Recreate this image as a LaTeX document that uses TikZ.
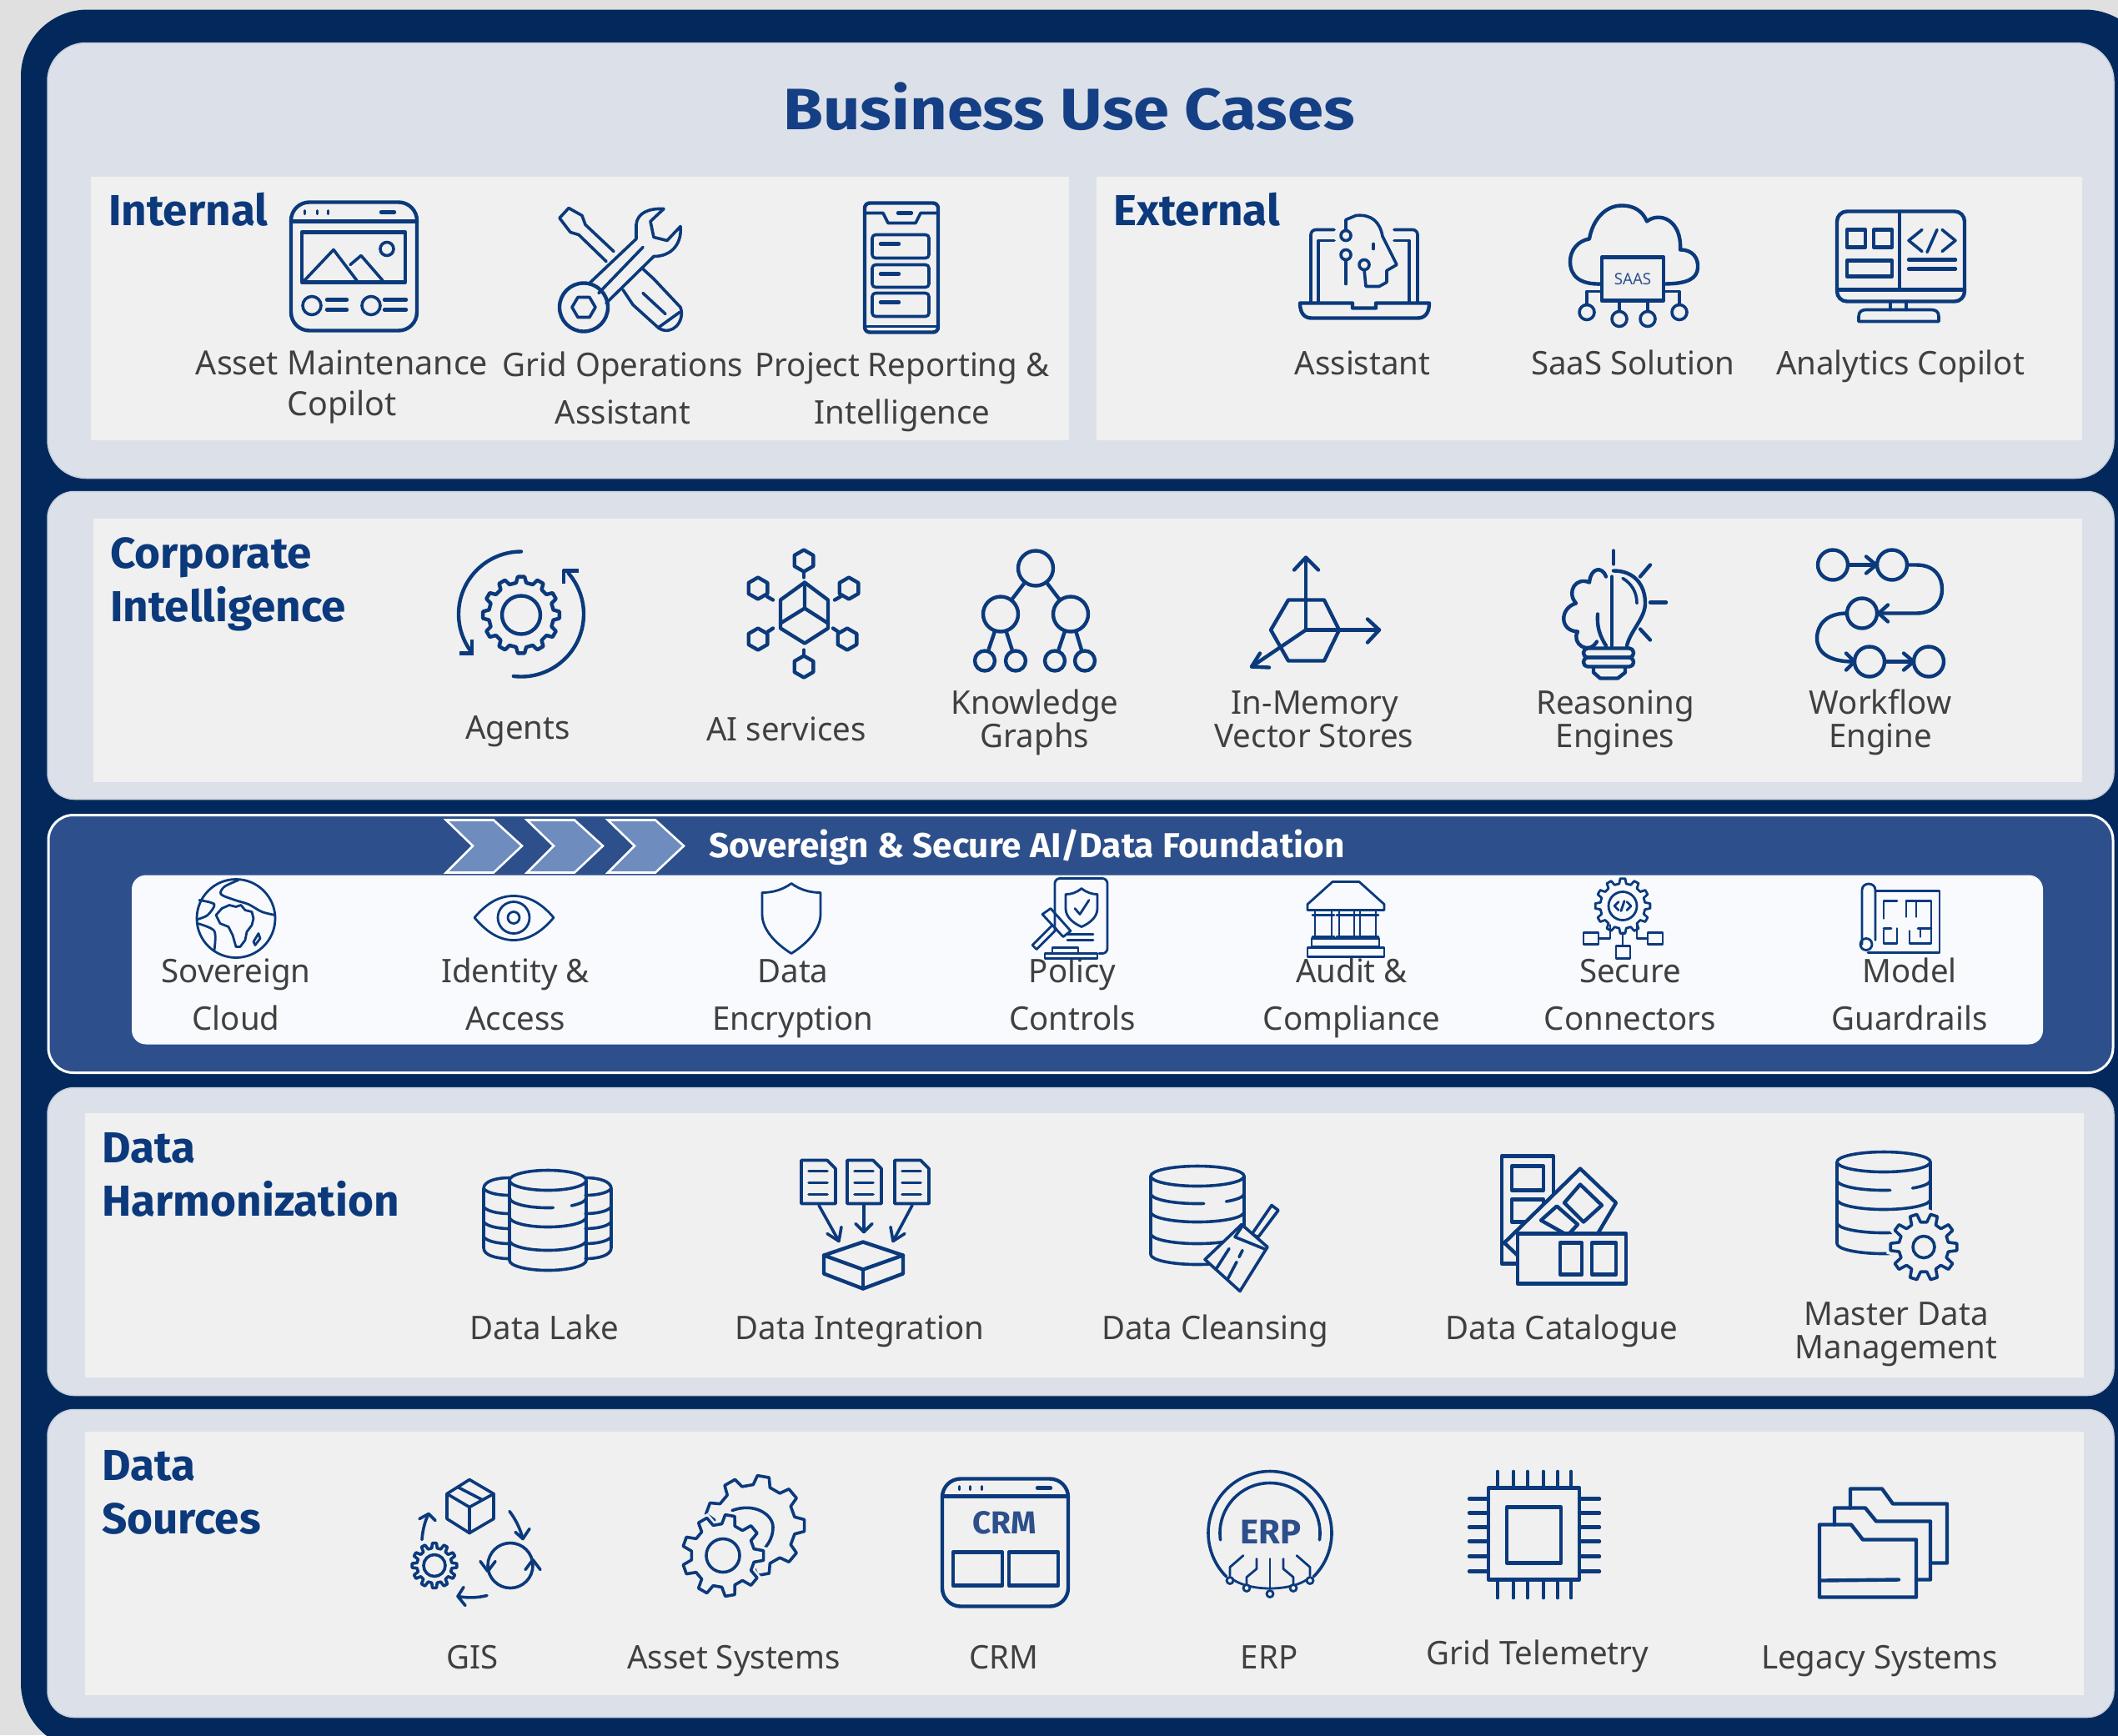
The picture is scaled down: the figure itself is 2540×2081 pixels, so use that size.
\documentclass[tikz,border=0pt]{standalone}
\usepackage{fontspec}
\setmainfont{Noto Sans}
\newfontfamily\labfont[FakeStretch=0.985]{Noto Sans}
\newfontfamily\hdfont[FakeStretch=1.02]{Fira Sans}
\newfontfamily\titlefont[FakeStretch=1.11]{Fira Sans}
\usetikzlibrary{arrows.meta}
\definecolor{pagegray}{HTML}{E0E0E0}
\definecolor{navy}{HTML}{03295C}
\definecolor{panelc}{HTML}{DCE1E9}
\definecolor{panelb}{HTML}{C8D0DC}
\definecolor{innerc}{HTML}{F0F0F0}
\definecolor{bandc}{HTML}{2D4F8B}
\definecolor{bandin}{HTML}{F8FAFE}
\definecolor{chevc}{HTML}{6E8DBE}
\definecolor{icoc}{HTML}{0B3A7C}
\definecolor{titlec}{HTML}{153F85}
\definecolor{headc}{HTML}{0B397B}
\definecolor{textc}{HTML}{404040}
\tikzset{
  panelbox/.style={fill=panelc,draw=panelb,line width=1.5pt,rounded corners=#1},
  innerbox/.style={fill=innerc,draw=none},
  ic/.style={draw=icoc,line width=4.4pt,line join=round,line cap=round},
  icm/.style={draw=icoc,line width=3.6pt,line join=round,line cap=round},
  ict/.style={draw=icoc,line width=2.8pt,line join=round,line cap=round},
  lbl/.style={anchor=base,inner sep=0pt,text=textc,font=\labfont\fontsize{39}{41}\selectfont},
  hd/.style={anchor=base west,inner sep=0pt,text=headc,font=\hdfont\bfseries\fontsize{52}{54}\selectfont},
  chev/.style={fill=chevc,draw=white,line width=2.6pt,line join=miter}
}
\newcommand{\gearat}[6][ic]{%
  \begin{scope}[shift={(#2,#3)}]
    \pgfmathsetmacro\gearstep{360/#6}
    \draw[#1] ({-.30*\gearstep}:#5)
      \foreach \k [evaluate=\k as \ga using \k*\gearstep] in {1,...,#6}{
        -- ({\ga-\gearstep-.17*\gearstep}:#4) -- ({\ga-\gearstep+.17*\gearstep}:#4) -- ({\ga-\gearstep+.30*\gearstep}:#5) -- ({\ga-.30*\gearstep}:#5)
      } -- cycle;
  \end{scope}}
\newcommand{\hexat}[4][icm]{%
  \draw[#1] ({#2},{#3-#4}) -- ({#2+.87*#4},{#3-.5*#4}) -- ({#2+.87*#4},{#3+.5*#4}) -- ({#2},{#3+#4}) -- ({#2-.87*#4},{#3+.5*#4}) -- ({#2-.87*#4},{#3-.5*#4}) -- cycle;}
\newcommand{\cylbody}[6][ic]{% cx rx ry top bot
  \draw[#1] ({#2-#3},#5) -- ({#2-#3},#6) arc[start angle=180,end angle=0,x radius=#3,y radius=#4] -- ({#2+#3},#5);
  \draw[#1] (#2,#5) ellipse[x radius=#3,y radius=#4];}
\newcommand{\bandarc}[5][ic]{% cx rx ry y
  \draw[#1] ({#2-#3},#5) arc[start angle=180,end angle=0,x radius=#3,y radius=#4];}
\newcommand{\gapband}[5][ic]{%
  \draw[#1] ({#2-#3},#5) arc[start angle=180,end angle=82,x radius=#3,y radius=#4];
  \draw[#1] ({#2+#3},#5) arc[start angle=0,end angle=52,x radius=#3,y radius=#4];}
\begin{document}
\begin{tikzpicture}[x=1pt,y=-1pt]
\useasboundingbox (0,0) rectangle (2540,2081);
\fill[pagegray] (0,0) rectangle (2540,2081);
\begin{scope}[yshift=-1.5pt]
\begin{scope}
\clip (0,0) rectangle (2540,2083);
\fill[navy,rounded corners=80pt] (25,10) rectangle (2580,2097);
\end{scope}
% panels
\draw[panelbox=46pt] (57,50) rectangle (2535,572);
\fill[innerbox] (109,210) rectangle (1282,526);
\fill[innerbox] (1315,210) rectangle (2497,526);
\draw[panelbox=32pt] (57,588) rectangle (2535,957);
\fill[innerbox] (112,620) rectangle (2497,936);
\draw[fill=bandc,draw=white,line width=3pt,rounded corners=30pt] (58,976) rectangle (2534,1285);
\fill[bandin,rounded corners=17pt] (158,1048) rectangle (2450,1251);
\draw[panelbox=32pt] (57,1303) rectangle (2535,1672);
\fill[innerbox] (102,1333) rectangle (2499,1650);
\draw[panelbox=32pt] (57,1689) rectangle (2535,2058);
\fill[innerbox] (102,1715) rectangle (2499,2031);
% chevrons
\foreach \dx in {0,97,194}{
  \draw[chev,shift={(\dx,0)}] (535,982) -- (592,982) -- (626,1013) -- (592,1045) -- (535,1045) -- (567,1013) -- cycle;
}
% titles
\node[anchor=base,inner sep=0pt,text=titlec,font=\titlefont\bfseries\fontsize{70}{72}\selectfont] (title) at (1282,154) {Business Use Cases};
\node[anchor=base west,inner sep=0pt,text=white,font=\hdfont\bfseries\fontsize{41.5}{44}\selectfont] (bandt) at (850,1027) {Sovereign \& Secure AI/Data Foundation};
\node[hd] (hInternal) at (130,269) {Internal};
\node[hd] (hExternal) at (1335,269) {External};
\node[hd] (hCorp1) at (132,680) {Corporate};
\node[hd] (hCorp2) at (132,744) {Intelligence};
\node[hd] (hHarm1) at (122,1393) {Data};
\node[hd] (hHarm2) at (122,1457) {Harmonization};
\node[hd] (hSrc1) at (122,1774) {Data};
\node[hd] (hSrc2) at (122,1838) {Sources};
% labels row 1
\node[lbl,font=\labfont\fontsize{40}{42}\selectfont] (a1a) at (410,448) {Asset Maintenance};
\node[lbl,font=\labfont\fontsize{40}{42}\selectfont] (a1b) at (410,497) {Copilot};
\node[lbl] (a2a) at (747,450) {Grid Operations};
\node[lbl] (a2b) at (747,507) {Assistant};
\node[lbl] (a3a) at (1082,450) {Project Reporting \&};
\node[lbl] (a3b) at (1082,507) {Intelligence};
\node[lbl] (e1) at (1634,448) {Assistant};
\node[lbl] (e2) at (1958,448) {SaaS Solution};
\node[lbl] (e3) at (2279,448) {Analytics Copilot};
% row 2
\node[lbl] (c1) at (621,885) {Agents};
\node[lbl] (c2) at (943,887) {AI services};
\node[lbl] (c3a) at (1241,855) {Knowledge};
\node[lbl] (c3b) at (1241,895) {Graphs};
\node[lbl] (c4a) at (1577,855) {In-Memory};
\node[lbl] (c4b) at (1576,895) {Vector Stores};
\node[lbl] (c5a) at (1937,855) {Reasoning};
\node[lbl] (c5b) at (1937,895) {Engines};
\node[lbl] (c6a) at (2255,855) {Workflow};
\node[lbl] (c6b) at (2255,895) {Engine};
% band
\node[lbl] (b1a) at (283,1177) {Sovereign};
\node[lbl] (b1b) at (283,1234) {Cloud};
\node[lbl] (b2a) at (618,1177) {Identity \&};
\node[lbl] (b2b) at (618,1234) {Access};
\node[lbl] (b3a) at (951,1177) {Data};
\node[lbl] (b3b) at (951,1234) {Encryption};
\node[lbl] (b4a) at (1286,1177) {Policy};
\node[lbl] (b4b) at (1286,1234) {Controls};
\node[lbl] (b5a) at (1621,1177) {Audit \&};
\node[lbl] (b5b) at (1621,1234) {Compliance};
\node[lbl] (b6a) at (1955,1177) {Secure};
\node[lbl] (b6b) at (1955,1234) {Connectors};
\node[lbl] (b7a) at (2290,1177) {Model};
\node[lbl] (b7b) at (2290,1234) {Guardrails};
% row 4
\node[lbl] (h1) at (653,1605) {Data Lake};
\node[lbl] (h2) at (1031,1605) {Data Integration};
\node[lbl] (h3) at (1457,1605) {Data Cleansing};
\node[lbl] (h4) at (1873,1605) {Data Catalogue};
\node[lbl] (h5a) at (2274,1588) {Master Data};
\node[lbl] (h5b) at (2274,1628) {Management};
% row 5
\node[lbl] (s1) at (567,2000) {GIS};
\node[lbl] (s2) at (880,2000) {Asset Systems};
\node[lbl] (s3) at (1204,2000) {CRM};
\node[lbl] (s4) at (1522,2000) {ERP};
\node[lbl] (s5) at (1844,1995) {Grid Telemetry};
\node[lbl] (s6) at (2254,2000) {Legacy Systems};

%% ---------- ICONS ----------
% Asset maintenance
\draw[ic,rounded corners=22pt] (349,241) rectangle (500,395);
\draw[ic] (349,264) -- (500,264);
\foreach \x in {365,380,393}{\draw[ic,line width=3pt] (\x,251) -- (\x,255);}
\draw[ic] (457,253) -- (473,253);
\draw[ic] (362,277) rectangle (486,337);
\draw[icm] (365,335) -- (400,298) -- (428,335);
\draw[icm] (420,316) -- (433,305) -- (459,335);
\draw[icm] (464,297) circle[radius=8];
\draw[icm] (374,365) circle[radius=11];
\draw[icm] (445,365) circle[radius=11];
\foreach \x/\y in {392/416,461/487}{
  \draw[ic] (\x,358) -- (\y,358); \draw[ic] (\x,370) -- (\y,370);
}
% Tools
\draw[ic] (700,367) circle[radius=29];
\draw[icm] (686,367) -- (693,355) -- (707,355) -- (714,367) -- (707,379) -- (693,379) -- cycle;
\draw[icm] (706,339) -- (763,285) -- (763,268) .. controls (764,254) and (778,248) .. (796,249) -- (780,264) -- (784,283) -- (800,287) -- (816,270) .. controls (818,290) and (806,306) .. (784,306) -- (727,362);
\draw[icm] (718,350) -- (771,295);
\draw[icm] (727,312) -- (694,280) -- (684,277) -- (671,260) -- (682,248) -- (698,257) -- (702,268) -- (736,300);
\draw[icm] (747,346) -- (759,364) -- (790,392) .. controls (806,402) and (822,384) .. (816,367) -- (784,333) -- (771,321);
\draw[icm] (771,350) -- (798,375);
\draw[icm] (790,391) -- (815,373);
% Phone
\draw[ic,rounded corners=6pt] (1037,242) rectangle (1125,397);
\draw[icm] (1038,254) -- (1059,254) -- (1065,266) -- (1098,266) -- (1104,254) -- (1123,254);
\draw[ic] (1077,254) -- (1093,254);
\draw[icm] (1037,390) -- (1125,390);
\foreach \y/\z in {280/308,316/343,350/378}{
  \draw[icm,rounded corners=4pt] (1046,\y) rectangle (1114,\z);
  \draw[ic] (1056,{\y+11}) -- (1078,{\y+11});
}
% Laptop assistant
\draw[ic] (1559,362) -- (1622,362) -- (1622,368) -- (1650,368) -- (1650,362) -- (1714,362) .. controls (1714,375) and (1708,380) .. (1700,380) -- (1573,380) .. controls (1565,380) and (1559,375) .. (1559,362) -- cycle;
\draw[icm,rounded corners=6pt] (1572,362) -- (1572,274) -- (1600,274);
\draw[icm,rounded corners=6pt] (1700,362) -- (1700,274) -- (1672,274);
\draw[icm] (1581,360) -- (1581,287) -- (1600,287);
\draw[icm] (1690,360) -- (1690,287) -- (1672,287);
\draw[icm] (1614,275) -- (1614,262) -- (1626,257) .. controls (1645,255) and (1655,265) .. (1658,282) -- (1675,316) -- (1663,323) -- (1663,337) -- (1654,342) -- (1638,342) -- (1636,322);
\draw[icm] (1636,316) circle[radius=6];
\draw[icm] (1614,281) circle[radius=6];
\draw[icm] (1614,304) circle[radius=6];
\draw[icm] (1614,310) -- (1614,339);
\draw[icm] (1647,291) -- (1647,297);
% Cloud
\draw[ic] (1921,339) .. controls (1895,340) and (1883,330) .. (1883,312) .. controls (1883,298) and (1893,287) .. (1906,285) .. controls (1910,262) and (1925,245) .. (1945,245) .. controls (1960,245) and (1970,252) .. (1975,264) .. controls (1990,252) and (2017,262) .. (2015,298) .. controls (2030,298) and (2037,308) .. (2036,320) .. controls (2035,332) and (2025,339) .. (1995,339);
\draw[ic,fill=innerc] (1921,307) rectangle (1995,359);
\node[inner sep=0pt,text=bandc,font=\labfont\fontsize{19}{19}\selectfont] (saas) at (1958,333) {SAAS};
\draw[icm] (1921,348) -- (1903,348) -- (1903,364);
\draw[icm] (1995,348) -- (2014,348) -- (2014,364);
\draw[icm] (1942,359) -- (1942,371);
\draw[icm] (1976,359) -- (1976,371);
\foreach \x/\y in {1903/373,1942/381,1976/381,2014/373}{\draw[icm] (\x,\y) circle[radius=9];}
% Monitor
\draw[ic,rounded corners=12pt] (2203,252) rectangle (2356,360);
\draw[icm] (2278,252) -- (2278,346);
\draw[ic] (2203,346) -- (2356,346);
\draw[icm] (2267,360) -- (2267,370); \draw[icm] (2286,360) -- (2286,370);
\draw[icm] (2229,384) -- (2229,378) .. controls (2229,372) and (2233,370) .. (2238,370) -- (2316,370) .. controls (2321,370) and (2325,372) .. (2325,378) -- (2325,384) -- cycle;
\draw[ic] (2215,274) rectangle (2237,295);
\draw[ic] (2247,274) rectangle (2269,295);
\draw[ic] (2215,311) rectangle (2269,330);
\draw[icm] (2305,274) -- (2289,287) -- (2305,300);
\draw[icm] (2311,301) -- (2323,274);
\draw[icm] (2329,274) -- (2345,287) -- (2329,300);
\draw[ic] (2289,310) -- (2345,310); \draw[ic] (2289,321) -- (2345,321);
% Agents
\gearat[ic]{625}{736}{46}{39}{12}
\draw[ic] (625,736) circle[radius=23];
\draw[ic] (625,735) +(-90:75) arc[start angle=-90,end angle=-217,radius=75];
\draw[ic,line cap=butt] (551,782) -- (567,782) (566,765) -- (566,784);
\draw[ic] (625,735) +(97:75) arc[start angle=97,end angle=-41,radius=75];
\draw[ic,line cap=butt] (675,683) -- (694,683) (676,681) -- (676,698);
% AI services
\draw[ic] (965,697) -- (993,718) -- (993,752) -- (965,770) -- (936,752) -- (936,718) -- cycle;
\draw[ic] (965,697) -- (965,728) -- (993,746);
\draw[ic] (965,728) -- (936,746);
\foreach \x/\y in {964/671,1018/704,909/704,1016/765,909/765,964/798}{\hexat[ic]{\x}{\y}{13}}
\draw[ic] (964,685) -- (964,691); \draw[ic] (964,778) -- (964,784);
\draw[ic] (920,714) -- (927,718); \draw[ic] (1008,714) -- (1001,718);
\draw[ic] (921,756) -- (927,752); \draw[ic] (1005,756) -- (999,752);
% Knowledge graph
\draw[ic] (1242,680) -- (1200,735) (1242,680) -- (1284,735);
\draw[ic] (1200,735) -- (1181,791) (1200,735) -- (1218,791) (1284,735) -- (1265,791) (1284,735) -- (1301,791);
\foreach \x/\y in {1242/680,1200/735,1284/735}{\draw[ic,fill=innerc] (\x,\y) circle[radius=21];}
\foreach \x in {1181,1218,1265,1301}{\draw[ic,fill=innerc] (\x,791) circle[radius=12];}
% Vector
\draw[ic] (1545,718) -- (1588,718) -- (1606,754) -- (1588,791) -- (1545,791) -- (1524,754) -- cycle;
\draw[ic] (1566,754) -- (1566,669);
\draw[ic] (1552,682) -- (1566,667) -- (1581,682);
\draw[ic] (1566,754) -- (1654,754);
\draw[ic] (1640,741) -- (1654,754) -- (1640,769);
\draw[ic] (1566,754) -- (1501,798);
\draw[ic] (1522,799) -- (1501,798) -- (1511,782);
% Bulb
\draw[ic] (1935,659) -- (1935,675);
\draw[ic] (1979,676) -- (1967,690);
\draw[ic] (1979,721) -- (1998,721);
\draw[ic] (1967,753) -- (1979,766);
\draw[ic] (1935,683) .. controls (1960,683) and (1973,700) .. (1973,722) .. controls (1973,740) and (1955,755) .. (1951,773);
\draw[ic] (1933,690) -- (1933,773);
\draw[icm] (1946,692) .. controls (1956,698) and (1963,708) .. (1963,722);
\draw[ic] (1926,773) .. controls (1918,760) and (1915,750) .. (1916,735);
\draw[ic] (1926,690) .. controls (1922,678) and (1908,678) .. (1906,697) .. controls (1890,690) and (1878,708) .. (1890,722) .. controls (1870,728) and (1870,755) .. (1892,756) .. controls (1884,770) and (1905,785) .. (1915,768);
\draw[ic,rounded corners=5pt] (1899,776) rectangle (1959,787);
\draw[ic,rounded corners=5pt] (1899,787) rectangle (1959,798);
\draw[ic] (1911,799) -- (1911,805) -- (1919,812) -- (1940,812) -- (1949,805) -- (1949,799);
% Workflow
\draw[ic] (2198,676) circle[radius=18];
\draw[ic] (2269,676) circle[radius=18];
\draw[ic] (2216,676) -- (2250,676);
\draw[ic] (2238,666) -- (2250,676) -- (2238,686);
\draw[ic] (2287,676) -- (2298,676) .. controls (2320,676) and (2329,690) .. (2329,705) .. controls (2329,722) and (2318,734) .. (2298,734) -- (2253,734);
\draw[ic] (2264,724) -- (2253,734) -- (2264,744);
\draw[ic] (2233,734) circle[radius=18];
\draw[ic] (2215,734) .. controls (2190,734) and (2179,748) .. (2179,764) .. controls (2179,780) and (2192,792) .. (2222,792);
\draw[ic] (2214,782) -- (2224,792) -- (2214,802);
\draw[ic] (2242,792) circle[radius=18];
\draw[ic] (2260,792) -- (2294,792);
\draw[ic] (2283,782) -- (2295,792) -- (2283,802);
\draw[ic] (2313,792) circle[radius=18];
% Globe
\draw[ict] (283,1100) circle[radius=47];
\draw[ict] (259,1096) -- (266,1088) -- (275,1084) -- (283,1086) -- (289,1084) -- (294,1090) -- (302,1092) -- (304,1100) -- (302,1108) -- (296,1116) -- (294,1126) -- (288,1134) -- (283,1134) -- (279,1120) -- (274,1110) -- (264,1106) -- cycle;
\draw[ict] plot[smooth] coordinates {(286,1054) (269,1062) (265,1071) (282,1078) (298,1083) (314,1092) (330,1096)};
\draw[ict] plot[smooth] coordinates {(239,1078) (257,1083) (249,1096) (237,1101)};
\draw[ict] plot[smooth] coordinates {(237,1106) (257,1115) (257,1138)};
\draw[ict] (310,1118) -- (304,1128) -- (306,1132) -- (312,1124) -- cycle;
% Eye
\draw[ict] (569,1099) .. controls (585,1080) and (600,1073) .. (616,1073) .. controls (632,1073) and (648,1080) .. (664,1099) .. controls (648,1118) and (632,1126) .. (616,1126) .. controls (600,1126) and (585,1118) .. (569,1099) -- cycle;
\draw[ict] (616,1099) circle[radius=19];
\draw[ict] (616,1099) circle[radius=7];
% Shield
\draw[ict] (949,1058) .. controls (960,1066) and (972,1069) .. (984,1069) -- (984,1095) .. controls (984,1115) and (965,1132) .. (949,1142) .. controls (933,1132) and (914,1115) .. (914,1095) -- (914,1069) .. controls (926,1069) and (938,1066) .. (949,1058) -- cycle;
% Policy
\draw[ict,rounded corners=6pt] (1265,1115) -- (1265,1052) -- (1328,1052) -- (1328,1142) -- (1318,1142);
\draw[ict] (1297,1064) .. controls (1303,1069) and (1310,1071) .. (1316,1071) -- (1316,1088) .. controls (1316,1099) and (1306,1106) .. (1297,1110) .. controls (1288,1106) and (1278,1099) .. (1278,1088) -- (1278,1071) .. controls (1285,1071) and (1291,1069) .. (1297,1064) -- cycle;
\draw[ict] (1289,1088) -- (1295,1095) -- (1306,1078);
\draw[ict] (1280,1119) -- (1311,1119); \draw[ict] (1280,1126) -- (1311,1126);
\draw[ict] (1238,1132) -- (1262,1108) -- (1267,1113) -- (1243,1137) -- cycle;
\draw[ict] (1250,1095) -- (1260,1088) -- (1284,1115) -- (1275,1122) -- cycle;
\draw[ict] (1253,1142) rectangle (1316,1148);
\draw[ict] (1262,1142) -- (1262,1135) -- (1293,1135) -- (1293,1142);
% Temple
\draw[ict] (1598,1056) -- (1630,1056) -- (1660,1083) -- (1660,1090) -- (1568,1090) -- (1568,1083) -- cycle;
\foreach \x/\y in {1577/1597,1606/1624,1631/1650}{\draw[ict] (\x,1090) -- (\x,1124);\draw[ict] ({\y},1090) -- ({\y},1124);\draw[ict] ({\x-3},1096) -- ({\y+3},1096);\draw[ict] ({\x-3},1122) -- ({\y+3},1122);}
\draw[ict] (1573,1124) rectangle (1654,1134);
\draw[ict] (1568,1135) rectangle (1660,1146);
% Secure connectors
\gearat[ict]{1946}{1085}{33}{27}{12}
\draw[ict] (1946,1085) circle[radius=17];
\draw[ict] (1941,1080) -- (1936,1085) -- (1941,1090);
\draw[ict] (1951,1080) -- (1956,1085) -- (1951,1090);
\draw[ict] (1944,1091) -- (1948,1079);
\draw[ict] (1946,1117) -- (1946,1133);
\draw[ict] (1938,1133) rectangle (1955,1148);
\draw[ict] (1931,1108) -- (1931,1124) -- (1917,1124);
\draw[ict] (1899,1117) rectangle (1917,1131);
\draw[ict] (1963,1108) -- (1963,1124) -- (1976,1124);
\draw[ict] (1976,1117) rectangle (1994,1131);
% Blueprint
\draw[ict] (2249,1067) -- (2326,1067) -- (2326,1141) -- (2240,1141);
\draw[ict] (2233,1131) -- (2233,1066) .. controls (2233,1056) and (2249,1056) .. (2249,1066) -- (2249,1126);
\draw[ict] (2238,1131) circle[radius=7];
\draw[ict] (2259,1100) -- (2259,1079) -- (2275,1079);
\draw[ict] (2286,1079) -- (2316,1079) -- (2316,1130) -- (2290,1130) -- (2290,1115);
\draw[ict] (2298,1079) -- (2298,1098);
\draw[ict] (2286,1079) -- (2286,1098) ;
\draw[ict] (2259,1114) -- (2259,1130) -- (2275,1130) -- (2275,1112);
\draw[ict] (2259,1112) -- (2268,1112);
\draw[ict] (2300,1112) -- (2316,1112);
\draw[ict] (2303,1112) -- (2303,1122);
% Data lake
\draw[icm] (611,1411) .. controls (595,1411) and (580,1415) .. (580,1424) -- (580,1495) .. controls (580,1504) and (595,1508) .. (611,1508);
\draw[icm] (580,1424) .. controls (585,1430) and (600,1432) .. (611,1432);
\foreach \y in {1446,1464,1482}{\draw[icm] (580,\y) .. controls (585,{\y+6}) and (600,{\y+8}) .. (611,{\y+8});}
\draw[icm] (702,1411) .. controls (718,1411) and (733,1415) .. (733,1424) -- (733,1495) .. controls (733,1504) and (718,1508) .. (702,1508);
\draw[icm] (733,1424) .. controls (728,1430) and (713,1432) .. (702,1432);
\foreach \y in {1446,1464,1482}{\draw[icm] (733,\y) .. controls (728,{\y+6}) and (713,{\y+8}) .. (702,{\y+8});}
\cylbody[icm]{657}{46}{12}{1414}{1510}
\gapband[icm]{657}{46}{12}{1435}
\bandarc[icm]{657}{46}{12}{1458}
\bandarc[icm]{657}{46}{12}{1486}
% Data integration
\foreach \x in {961,1016,1073}{
  \draw[icm] (\x,1390) -- ({\x+31},1390) -- ({\x+41},1400) -- ({\x+41},1442) -- (\x,1442) -- cycle;
  \foreach \y in {1403,1417,1431}{\draw[icm] ({\x+9},\y) -- ({\x+31},\y);}
}
\draw[icm] (982,1444) -- (1006,1487); \draw[icm] (992,1478) -- (1006,1487) -- (1009,1470);
\draw[icm] (1036,1444) -- (1036,1476); \draw[icm] (1026,1466) -- (1036,1476) -- (1046,1466);
\draw[icm] (1094,1444) -- (1071,1487); \draw[icm] (1068,1470) -- (1071,1487) -- (1085,1478);
\draw[ic] (1035,1488) -- (1083,1504) -- (1035,1521) -- (988,1504) -- cycle;
\draw[ic] (988,1504) -- (988,1526) -- (1035,1544) -- (1083,1526) -- (1083,1504);
\draw[ic] (1035,1521) -- (1035,1544);
% Data cleansing
\cylbody[icm]{1436}{56}{12}{1409}{1503}
\gapband[icm]{1436}{56}{12}{1430}
\bandarc[icm]{1436}{56}{12}{1452}
\bandarc[icm]{1436}{56}{12}{1478}
\draw[icm,fill=innerc] (1501,1479) -- (1525,1444) -- (1533,1450) -- (1509,1482) -- cycle;
\draw[icm,fill=innerc] (1489,1467) -- (1520,1494) -- (1487,1547) -- (1445,1509) -- cycle;
\draw[icm] (1489,1470) -- (1481,1482) -- (1518,1497);
\draw[icm] (1458,1521) -- (1474,1496);
\draw[icm] (1472,1533) -- (1483,1512);
\draw[icm] (1486,1506) -- (1490,1498);
% Data catalogue
\draw[ic] (1801,1385) rectangle (1863,1514);
\draw[ic] (1813,1397) rectangle (1851,1426);
\draw[ic] (1813,1437) rectangle (1851,1464);
\draw[ic,fill=innerc] (1895,1400) -- (1938,1441) -- (1903,1500) -- (1823,1507) -- (1804,1489) -- cycle;
\draw[ic] (1895,1419) -- (1921,1444) -- (1899,1464) -- (1876,1441) -- cycle;
\draw[ic] (1867,1445) -- (1892,1467) -- (1880,1480) -- (1848,1462) -- cycle;
\draw[ic,fill=innerc] (1820,1478) rectangle (1950,1538);
\draw[ic] (1871,1489) rectangle (1897,1527);
\draw[ic] (1909,1489) rectangle (1938,1527);
% MDM
\cylbody[icm]{2259}{56}{12}{1392}{1490}
\gapband[icm]{2259}{56}{12}{1414}
\bandarc[icm]{2259}{56}{12}{1437}
\bandarc[icm]{2259}{56}{12}{1465}
\gearat[draw=innerc,fill=innerc,line width=10pt]{2307}{1494}{40}{33}{10}
\gearat[icm,fill=innerc]{2307}{1494}{40}{30}{10}
\draw[icm] (2307,1494) circle[radius=13];
% GIS
\draw[icm] (563,1773) -- (592,1790) -- (592,1820) -- (563,1837) -- (536,1820) -- (536,1790) -- cycle;
\draw[icm] (536,1790) -- (563,1806) -- (592,1790);
\draw[icm] (563,1806) -- (563,1837);
\draw[icm] (549,1782) -- (578,1797);
\draw[icm] (506,1845) .. controls (507,1832) and (510,1822) .. (514,1814);
\draw[icm] (503,1820) -- (514,1814) -- (522,1822);
\draw[icm] (611,1811) .. controls (618,1820) and (624,1832) .. (627,1844);
\draw[icm] (618,1836) -- (627,1844) -- (635,1832);
\draw[icm] (584,1912) .. controls (572,1915) and (560,1915) .. (549,1913);
\draw[icm] (556,1902) -- (549,1913) -- (558,1924);
\gearat[icm]{521}{1876}{27}{21}{12}
\draw[icm] (521,1876) circle[radius=13];
\draw[icm] (612,1876) circle[radius=27];
\draw[icm] (576,1871) -- (585,1883) -- (594,1871);
\draw[icm] (630,1881) -- (639,1869) -- (648,1881);
% Asset systems
\gearat[icm]{905}{1828}{60}{49}{9}
\draw[icm] (878,1810) .. controls (905,1800) and (927,1815) .. (927,1830) .. controls (927,1840) and (923,1848) .. (918,1854);
\gearat[draw=innerc,fill=innerc,line width=9pt]{867}{1864}{49}{38}{9}
\gearat[icm,fill=innerc]{867}{1864}{49}{38}{9}
\draw[icm] (867,1864) circle[radius=20];
% CRM
\draw[ic,rounded corners=22pt] (1130,1772) rectangle (1281,1925);
\draw[ic] (1130,1793) -- (1281,1793);
\foreach \x in {1150,1163,1177}{\draw[ic,line width=3pt] (\x,1781) -- (\x,1785);}
\draw[ic] (1244,1783) -- (1260,1783);
\node[inner sep=0pt,text=bandc,font=\hdfont\bfseries\fontsize{38}{38}\selectfont] (crmi) at (1205,1825) {CRM};
\draw[ic] (1143,1860) rectangle (1202,1900);
\draw[ic] (1210,1860) rectangle (1269,1900);
% ERP
\draw[icm] (1523,1837) +(135:74) arc[start angle=135,end angle=405,radius=74];
\draw[icm] (1523,1837) +(172:60) arc[start angle=172,end angle=368,radius=60];
\node[inner sep=0pt,text=bandc,font=\hdfont\bfseries\fontsize{41}{41}\selectfont] (erpi) at (1524,1836) {ERP};
\draw[ict] (1475,1890) .. controls (1495,1908) and (1551,1908) .. (1571,1890);
\draw[ict] (1523,1904) -- (1523,1868);
\draw[ict] (1495,1900) -- (1495,1890) -- (1507,1880) -- (1507,1868);
\draw[ict] (1551,1900) -- (1551,1890) -- (1539,1880) -- (1539,1868);
\draw[ict] (1475,1888) -- (1475,1878) -- (1491,1864);
\draw[ict] (1571,1888) -- (1571,1878) -- (1555,1864);
\foreach \x/\y in {1523/1910,1495/1903,1551/1903,1475/1894,1571/1894}{\draw[ict,fill=innerc] (\x,\y) circle[radius=4];}
% Chip
\draw[ic] (1785,1783) rectangle (1894,1893);
\draw[ic] (1807,1806) rectangle (1872,1873);
\foreach \x in {1796,1815,1832,1851,1868,1884}{\draw[icm] (\x,1763) -- (\x,1783); \draw[icm] (\x,1893) -- (\x,1915);}
\foreach \y in {1796,1813,1830,1847,1865,1883}{\draw[ic] (1762,\y) -- (1785,\y); \draw[ic] (1894,\y) -- (1918,\y);}
% Legacy folders
\draw[ic] (2182,1827) -- (2220,1827) -- (2234,1845) -- (2298,1845) -- (2298,1914) -- (2182,1914) -- cycle;
\draw[ic] (2184,1894) -- (2277,1893);
\draw[ic] (2200,1827) -- (2200,1807) -- (2237,1807) -- (2250,1823) -- (2315,1823) -- (2315,1893) -- (2298,1893);
\draw[ic] (2219,1807) -- (2219,1784) -- (2257,1784) -- (2270,1802) -- (2335,1802) -- (2335,1873) -- (2315,1873);
\end{scope}
\end{tikzpicture}
\end{document}
